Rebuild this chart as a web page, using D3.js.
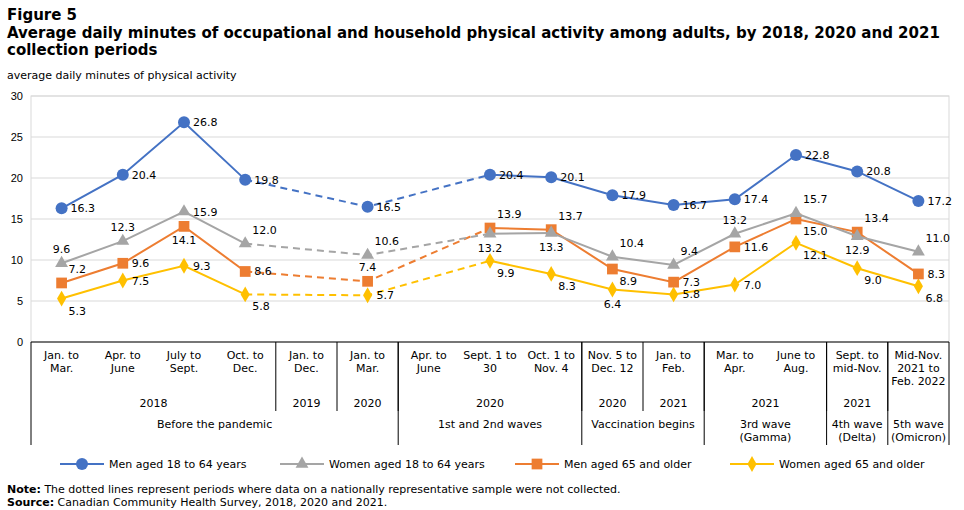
<!DOCTYPE html>
<html><head><meta charset="utf-8">
<script src="https://cdn.jsdelivr.net/npm/d3@7"></script>
<style>body{margin:0;background:#fff;font-family:"DejaVu Sans",Verdana,sans-serif;}</style>
</head><body><div id="chart"></div>
<script>
// data
const categories = [["Jan. to","Mar."],["Apr. to","June"],["July to","Sept."],["Oct. to","Dec."],["Jan. to","Dec."],["Jan. to","Mar."],["Apr. to","June"],["Sept. 1 to","30"],["Oct. 1 to","Nov. 4"],["Nov. 5 to","Dec. 12"],["Jan. to","Feb."],["Mar. to","Apr."],["June to","Aug."],["Sept. to","mid-Nov."],["Mid-Nov.","2021 to","Feb. 2022"]];
const years = [["2018",0,3],["2019",4,4],["2020",5,5],["2020",6,8],["2020",9,9],["2021",10,10],["2021",11,12],["2021",13,13],["",14,14]];
const waves = [[["Before the pandemic"],0,5],[["1st and 2nd waves"],6,8],[["Vaccination begins"],9,10],[["3rd wave","(Gamma)"],11,12],[["4th wave","(Delta)"],13,13],[["5th wave","(Omicron)"],14,14]];
const men = [16.3,20.4,26.8,19.8,null,16.5,null,20.4,20.1,17.9,16.7,17.4,22.8,20.8,17.2];
const women = [9.6,12.3,15.9,12.0,null,10.6,null,13.2,13.3,10.4,9.4,13.2,15.7,12.9,11.0];
const menOld = [7.2,9.6,14.1,8.6,null,7.4,null,13.9,13.7,8.9,7.3,11.6,15.0,13.4,8.3];
const womenOld = [5.3,7.5,9.3,5.8,null,5.7,null,9.9,8.3,6.4,5.8,7.0,12.1,9.0,6.8];
const yTicks = [0,5,10,15,20,25,30];

// label placement codes per point
const menPos = ['r','r','r','r',null,'r',null,'r','r','r','r','r','r','r','r'];
const womenPos = ['a','a','r','ar',null,'ar',null,'b','b','ar','ar','a','ar','b','ar'];
const menOldPos = ['ar','r','b','r',null,'a',null,'ar','ar','br','r','r','br','ar','r'];
const womenOldPos = ['br','r','r','br',null,'r',null,'br','br','b','r','r','br','br','br'];

const series = [
  {name:"Men aged 18 to 64 years", v:men, pos:menPos, color:"#4472c4", shape:"circle"},
  {name:"Women aged 18 to 64 years", v:women, pos:womenPos, color:"#a5a5a5", shape:"triangle"},
  {name:"Men aged 65 and older", v:menOld, pos:menOldPos, color:"#ed7d31", shape:"square"},
  {name:"Women aged 65 and older", v:womenOld, pos:womenOldPos, color:"#ffc000", shape:"diamond"}
];
const offs = {r:[9,4,'start'], a:[0,-10,'middle'], ar:[7,-10,'start'], b:[0,18,'middle'], br:[7,16,'start']};

const W = 964, H = 510, L = 31, R = 949, T = 96, B = 342;
const svg = d3.select('#chart').append('svg').attr('width', W).attr('height', H)
  .style('font-family','"DejaVu Sans",Verdana,sans-serif');

svg.append('text').attr('x',7).attr('y',20).attr('font-size',15).attr('font-weight','bold').text('Figure 5');
svg.append('text').attr('x',7).attr('y',38).attr('font-size',15).attr('font-weight','bold')
  .text('Average daily minutes of occupational and household physical activity among adults, by 2018, 2020 and 2021');
svg.append('text').attr('x',7).attr('y',55).attr('font-size',15).attr('font-weight','bold').text('collection periods');
svg.append('text').attr('x',7).attr('y',79).attr('font-size',11).text('average daily minutes of physical activity');

const x = d3.scaleBand().domain(d3.range(categories.length)).range([L, R]);
const y = d3.scaleLinear().domain([0,30]).range([B, T]);
const cx = i => x(i) + x.bandwidth()/2;

// grid
svg.append('g').selectAll('line').data(yTicks.slice(1)).join('line')
  .attr('x1',L).attr('x2',R).attr('y1',d=>y(d)).attr('y2',d=>y(d)).attr('stroke','#d9d9d9');
svg.append('rect').attr('x',L).attr('y',T).attr('width',R-L).attr('height',B-T).attr('fill','none').attr('stroke','#d9d9d9');
const yAxis = svg.append('g').attr('transform',`translate(${L},0)`)
  .call(d3.axisLeft(y).tickValues(yTicks).tickSize(0).tickPadding(8));
yAxis.select('.domain').remove();
yAxis.selectAll('text').attr('font-size',11).attr('fill','#000').style('font-family','inherit');

// x axis block
svg.append('line').attr('x1',L).attr('x2',R).attr('y1',B).attr('y2',B).attr('stroke','#000');
const bx = i => x(i);
categories.forEach((c,i)=>{
  c.forEach((t,k)=>svg.append('text').attr('x',cx(i)).attr('y',359+k*13).attr('text-anchor','middle').attr('font-size',11).text(t));
});
years.forEach(([t,a,b])=>{
  svg.append('text').attr('x',(bx(a)+bx(b)+x.bandwidth())/2).attr('y',407).attr('text-anchor','middle').attr('font-size',11).text(t);
  if(a>0) svg.append('line').attr('x1',bx(a)).attr('x2',bx(a)).attr('y1',B).attr('y2',411).attr('stroke','#000');
});
waves.forEach(([t,a,b])=>{
  t.forEach((s,k)=>svg.append('text').attr('x',(bx(a)+bx(b)+x.bandwidth())/2).attr('y',428+k*13).attr('text-anchor','middle').attr('font-size',11).text(s));
  svg.append('line').attr('x1',bx(a)).attr('x2',bx(a)).attr('y1',B).attr('y2',445).attr('stroke','#000');
});
svg.append('line').attr('x1',R).attr('x2',R).attr('y1',B).attr('y2',445).attr('stroke','#000');

// markers
function marker(g, shape, color, px, py, s){
  if(shape==='circle') g.append('circle').attr('cx',px).attr('cy',py).attr('r',s*0.5).attr('fill',color);
  else {
    const sym = {triangle:d3.symbolTriangle, square:d3.symbolSquare, diamond:d3.symbolDiamond}[shape];
    const size = {triangle:s*s*0.5, square:s*s*0.8, diamond:s*s*0.5}[shape];
    g.append('path').attr('d',d3.symbol(sym,size)()).attr('transform',`translate(${px},${py})`).attr('fill',color);
  }
}

const line = d3.line().defined(d=>d[1]!=null).x(d=>cx(d[0])).y(d=>y(d[1]));
series.slice().reverse().forEach(s=>{
  const pts = s.v.map((v,i)=>[i,v]);
  const g = svg.append('g');
  g.append('path').attr('d',line(pts.filter(p=>p[0]!==5))).attr('fill','none').attr('stroke',s.color).attr('stroke-width',2);
  g.append('path').attr('d',line([pts[3],pts[5],pts[7]])).attr('fill','none').attr('stroke',s.color)
    .attr('stroke-width',2).attr('stroke-dasharray','7,5');
  pts.filter(p=>p[1]!=null).forEach(p=>marker(g,s.shape,s.color,cx(p[0]),y(p[1]),12));
});
series.forEach(s=>{
  s.v.forEach((v,i)=>{ if(v==null) return;
    const o = offs[s.pos[i]];
    svg.append('text').attr('x',cx(i)+o[0]).attr('y',y(v)+o[1]).attr('text-anchor',o[2])
      .attr('font-size',11).attr('fill','#000').text(v.toFixed(1));
  });
});

// legend
const lx = [60,280,515,730];
series.forEach((s,i)=>{
  const g = svg.append('g');
  g.append('line').attr('x1',lx[i]).attr('x2',lx[i]+44).attr('y1',464).attr('y2',464).attr('stroke',s.color).attr('stroke-width',2);
  marker(g,s.shape,s.color,lx[i]+22,464,12);
  g.append('text').attr('x',lx[i]+49).attr('y',468).attr('font-size',11).text(s.name);
});

// notes
const n1 = svg.append('text').attr('x',7).attr('y',493).attr('font-size',11);
n1.append('tspan').attr('font-weight','bold').text('Note:');
n1.append('tspan').text(' The dotted lines represent periods where data on a nationally representative sample were not collected.');
const n2 = svg.append('text').attr('x',7).attr('y',506).attr('font-size',11);
n2.append('tspan').attr('font-weight','bold').text('Source:');
n2.append('tspan').text(' Canadian Community Health Survey, 2018, 2020 and 2021.');
</script></body></html>
